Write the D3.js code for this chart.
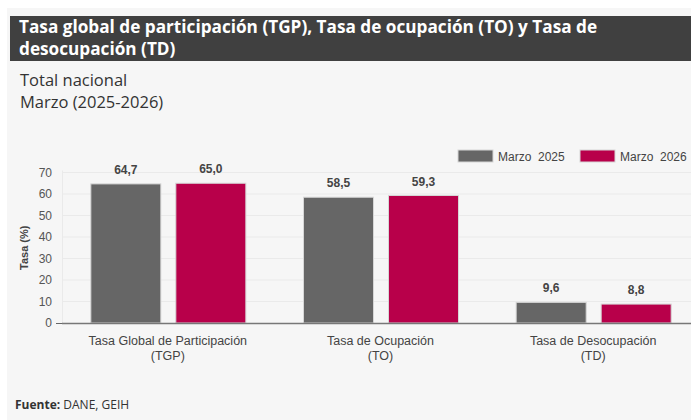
<!DOCTYPE html>
<html lang="es">
<head>
<meta charset="UTF-8">
<title>TGP, TO y TD</title>
<script src="https://d3js.org/d3.v7.min.js"></script>
<style>
  body { margin: 0; background: #fff; overflow: hidden; }
  .hdr { font-family: "Open Sans", sans-serif; }
  .ax text { font-family: "Liberation Sans", Arial, sans-serif; font-size: 12px; fill: #555; }
</style>
</head>
<body>
<svg id="chart" width="691" height="420"></svg>
<script>
// data
const categories = [
  ["Tasa Global de Participación", "(TGP)"],
  ["Tasa de Ocupación", "(TO)"],
  ["Tasa de Desocupación", "(TD)"]
];
const series = ["Marzo  2025", "Marzo  2026"];
const values2025 = [64.7, 58.5, 9.6];
const values2026 = [65.0, 59.3, 8.8];
const yTicks = [0, 10, 20, 30, 40, 50, 60, 70];
const colors = ["#666666", "#b8004a"];

const svg = d3.select("#chart");

// panel background
svg.append("rect").attr("x", 7).attr("y", 8).attr("width", 684).attr("height", 412).attr("fill", "#f6f6f6");

// title bar
svg.append("rect").attr("x", 10).attr("y", 16).attr("width", 681).attr("height", 45).attr("fill", "#404040");
const title = svg.append("text").attr("class", "hdr")
  .attr("font-size", 17.2).attr("font-weight", 700).attr("fill", "#fff");
title.append("tspan").attr("x", 19).attr("y", 33).text("Tasa global de participación (TGP), Tasa de ocupación (TO) y Tasa de");
title.append("tspan").attr("x", 19).attr("y", 55).text("desocupación (TD)");

const sub = svg.append("text").attr("class", "hdr").attr("font-size", 16.5).attr("fill", "#333");
sub.append("tspan").attr("x", 20).attr("y", 86).text("Total nacional");
sub.append("tspan").attr("x", 20).attr("y", 108).text("Marzo (2025-2026)");

// chart area
const x0 = 62, plotW = 638, yTop = 172.5, yBase = 323;

const x = d3.scaleBand().domain(d3.range(categories.length)).range([x0, x0 + plotW]);
const xs = d3.scaleBand().domain([0, 1]).range([0, 155]).paddingInner(0.1765);
const y = d3.scaleLinear().domain([0, 70]).range([yBase, yTop]);

// gridlines
svg.append("g").selectAll("line").data(yTicks.slice(1)).join("line")
  .attr("x1", x0).attr("x2", 691)
  .attr("y1", d => y(d)).attr("y2", d => y(d))
  .attr("stroke", "#eaeaea").attr("stroke-width", 1);
svg.append("line").attr("x1", x0 + 0.5).attr("x2", x0 + 0.5).attr("y1", yTop - 2).attr("y2", yBase)
  .attr("stroke", "#eaeaea");

// y axis
const yAxis = svg.append("g").attr("class", "ax")
  .attr("transform", `translate(${x0},0)`)
  .call(d3.axisLeft(y).tickValues(yTicks).tickSize(0).tickPadding(10));
yAxis.select(".domain").remove();
yAxis.selectAll("text").attr("font-size", 13);
svg.append("line").attr("x1", 56).attr("x2", x0).attr("y1", yBase + 0.5).attr("y2", yBase + 0.5).attr("stroke", "#666");

svg.append("text")
  .attr("transform", `translate(28,${(yTop + yBase) / 2}) rotate(-90)`)
  .attr("text-anchor", "middle")
  .attr("font-family", "Liberation Sans, Arial, sans-serif")
  .attr("font-size", 11).attr("font-weight", 700).attr("fill", "#444")
  .text("Tasa (%)");

// bars
const rows = categories.map((c, i) => [values2025[i], values2026[i]]);
const groups = svg.append("g").selectAll("g").data(rows).join("g")
  .attr("transform", (d, i) => `translate(${x(i) + (x.bandwidth() - 155) / 2},0)`);

groups.selectAll("rect").data(d => d).join("rect")
  .attr("x", (d, j) => xs(j))
  .attr("width", xs.bandwidth())
  .attr("y", d => y(d))
  .attr("height", d => yBase - y(d))
  .attr("fill", (d, j) => colors[j])
  .attr("stroke", "#d6d6d6").attr("stroke-width", 1);

groups.selectAll("text").data(d => d).join("text")
  .attr("x", (d, j) => xs(j) + xs.bandwidth() / 2)
  .attr("y", d => y(d) - 10)
  .attr("text-anchor", "middle")
  .attr("font-family", "Liberation Sans, Arial, sans-serif")
  .attr("font-size", 12).attr("font-weight", 700).attr("fill", "#444")
  .text(d => d3.format(".1f")(d).replace(".", ","));

// baseline
svg.append("line").attr("x1", x0).attr("x2", 691).attr("y1", yBase + 0.5).attr("y2", yBase + 0.5)
  .attr("stroke", "#777").attr("stroke-width", 1.5);

// category labels
svg.append("g").selectAll("text").data(categories).join("text")
  .attr("text-anchor", "middle")
  .attr("font-family", "Liberation Sans, Arial, sans-serif")
  .attr("font-size", 12.5).attr("fill", "#444")
  .each(function (d, i) {
    const t = d3.select(this);
    d.forEach((line, k) => t.append("tspan")
      .attr("x", x(i) + x.bandwidth() / 2 - 0.5).attr("y", 345 + k * 15).text(line));
  });

// legend
const legX = [458, 580];
const leg = svg.append("g").selectAll("g").data(series).join("g")
  .attr("transform", (d, i) => `translate(${legX[i]},150)`);
leg.append("rect").attr("width", 35).attr("height", 12)
  .attr("fill", (d, i) => colors[i]).attr("stroke", "#d6d6d6");
leg.append("text").attr("x", 40).attr("y", 11)
  .attr("font-family", "Liberation Sans, Arial, sans-serif")
  .attr("font-size", 12).attr("fill", "#444")
  .attr("xml:space", "preserve")
  .text(d => d);

// source
const src = svg.append("text").attr("class", "hdr").attr("x", 15).attr("y", 409)
  .attr("font-size", 12).attr("fill", "#333");
src.append("tspan").attr("font-weight", 700).text("Fuente: ");
src.append("tspan").text("DANE, GEIH");
</script>
</body>
</html>
